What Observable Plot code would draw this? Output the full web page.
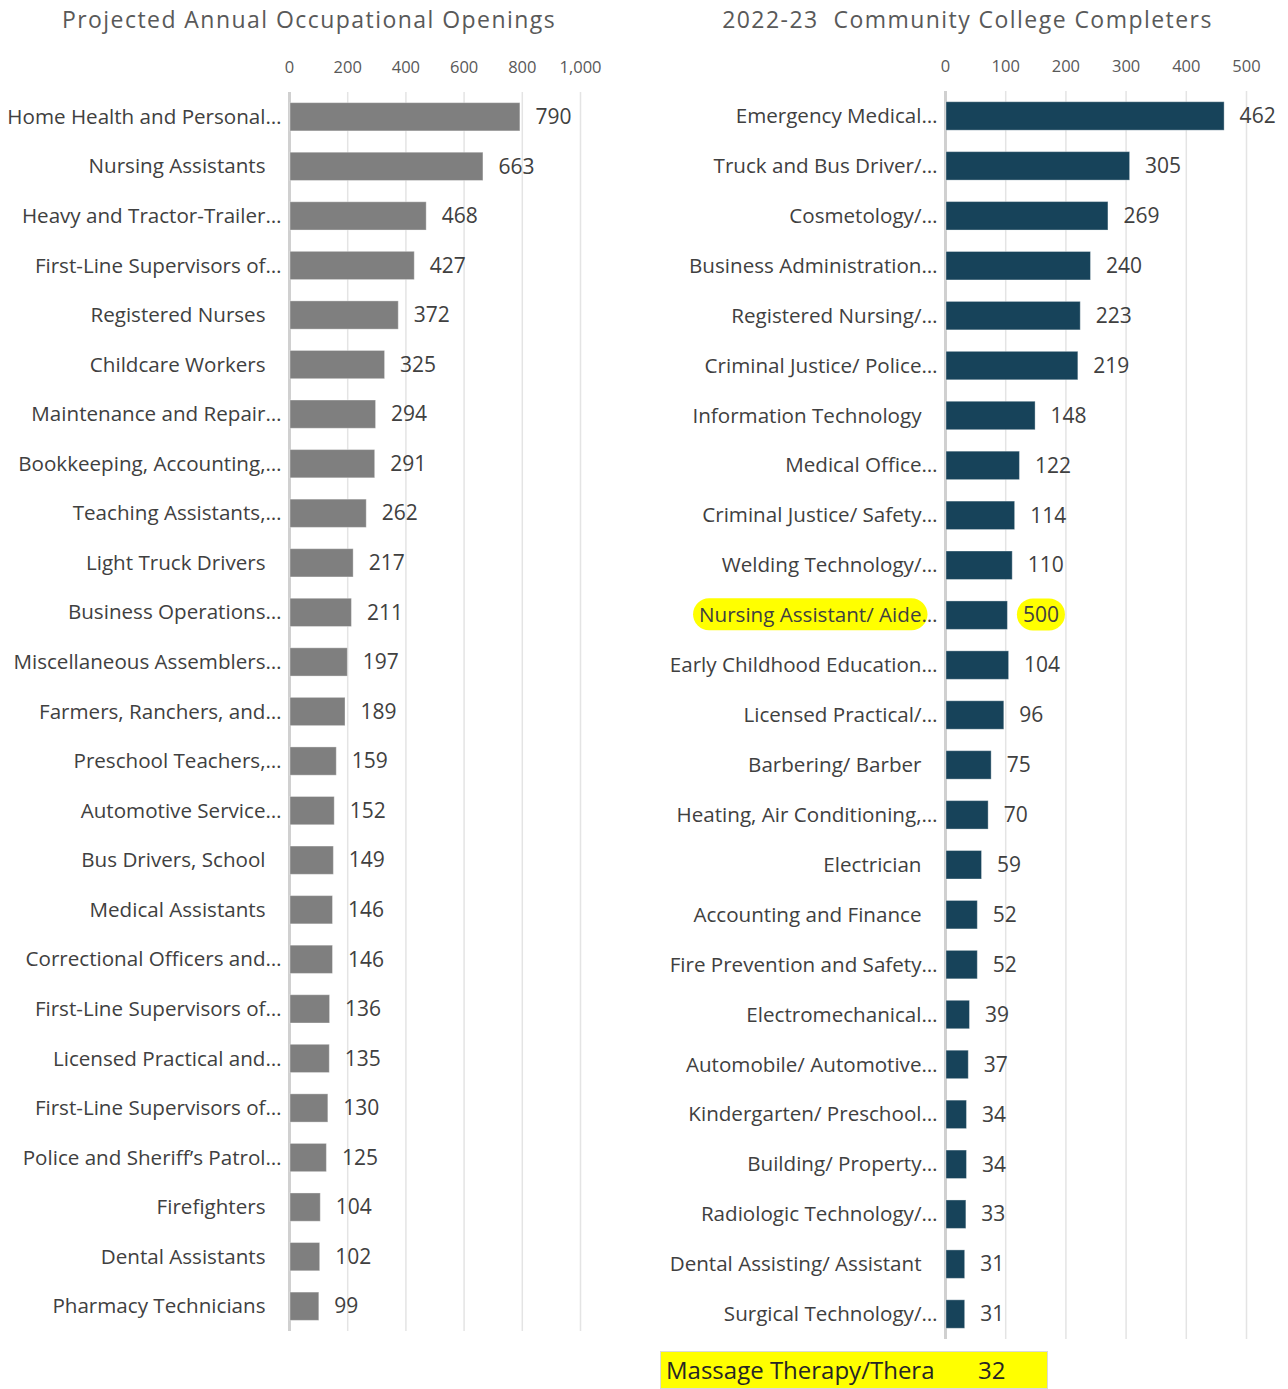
<!DOCTYPE html>
<html>
<head>
<meta charset="utf-8">
<script src="https://cdn.jsdelivr.net/npm/d3@7"></script>
<script src="https://cdn.jsdelivr.net/npm/@observablehq/plot@0.6"></script>
<style>
  html, body { margin: 0; padding: 0; background: #fff; }
  #wrap { position: relative; width: 1288px; height: 1389px; font-family: "Open Sans", sans-serif; color: #404040; overflow: hidden; }
  .title { position: absolute; top: 3px; font-size: 23px; letter-spacing: 1.45px; color: #595959; text-align: center; white-space: nowrap; }
  .panel { position: absolute; top: 40px; line-height: 0; }
  #note { position: absolute; left: 660px; top: 1351px; width: 386px; height: 36px; background: #ffff00; border: 1px solid #d9d9d9; font-size: 24px; color: #262626; }
  #note .name { position: absolute; left: 5px; top: 0; width: 268px; height: 36px; line-height: 36px; overflow: hidden; white-space: nowrap; }
  #note .val { position: absolute; left: 317px; top: 0; line-height: 36px; }
</style>
</head>
<body>
<div id="wrap">
  <div class="title" id="t1" style="left:0;width:618px;"></div>
  <div class="title" id="t2" style="left:640px;width:655px;"></div>
  <div class="panel" id="left" style="left:0;"></div>
  <div class="panel" id="right" style="left:640px;"></div>
  <div id="note"><span class="name"></span><span class="val"></span></div>
</div>
<script>
const leftTitle = "Projected Annual Occupational Openings";
const rightTitle = "2022-23\u00a0 Community College Completers";

const leftNames = [
  "Home Health and Personal…", "Nursing Assistants", "Heavy and Tractor-Trailer…",
  "First-Line Supervisors of…", "Registered Nurses", "Childcare Workers",
  "Maintenance and Repair…", "Bookkeeping, Accounting,…", "Teaching Assistants,…",
  "Light Truck Drivers", "Business Operations…", "Miscellaneous Assemblers…",
  "Farmers, Ranchers, and…", "Preschool Teachers,…", "Automotive Service…",
  "Bus Drivers, School", "Medical Assistants", "Correctional Officers and…",
  "First-Line Supervisors of…", "Licensed Practical and…", "First-Line Supervisors of…",
  "Police and Sheriff’s Patrol…", "Firefighters", "Dental Assistants", "Pharmacy Technicians"
];
const leftValues = [790, 663, 468, 427, 372, 325, 294, 291, 262, 217, 211, 197, 189, 159, 152, 149, 146, 146, 136, 135, 130, 125, 104, 102, 99];
const leftTicks = [0, 200, 400, 600, 800, 1000];

const rightNames = [
  "Emergency Medical…", "Truck and Bus Driver/…", "Cosmetology/…",
  "Business Administration…", "Registered Nursing/…", "Criminal Justice/ Police…",
  "Information Technology", "Medical Office…", "Criminal Justice/ Safety…",
  "Welding Technology/…", "Nursing Assistant/ Aide…", "Early Childhood Education…",
  "Licensed Practical/…", "Barbering/ Barber", "Heating, Air Conditioning,…",
  "Electrician", "Accounting and Finance", "Fire Prevention and Safety…",
  "Electromechanical…", "Automobile/ Automotive…", "Kindergarten/ Preschool…",
  "Building/ Property…", "Radiologic Technology/…", "Dental Assisting/ Assistant",
  "Surgical Technology/…"
];
const rightValues = [462, 305, 269, 240, 223, 219, 148, 122, 114, 110, 102, 104, 96, 75, 70, 59, 52, 52, 39, 37, 34, 34, 33, 31, 31];
const rightLabels = ["462", "305", "269", "240", "223", "219", "148", "122", "114", "110", "500", "104", "96", "75", "70", "59", "52", "52", "39", "37", "34", "34", "33", "31", "31"];
const rightHighlight = ["Nursing Assistant/ Aide…"];
const rightTicks = [0, 100, 200, 300, 400, 500];

const noteName = "Massage Therapy/Therapist";
const noteValue = 32;

document.getElementById("t1").textContent = leftTitle;
document.getElementById("t2").textContent = rightTitle;
document.querySelector("#note .name").textContent = noteName;
document.querySelector("#note .val").textContent = noteValue;

const FONT = "Open Sans, sans-serif";

function panel({names, values, labels, ticks, color, width, height, marginLeft, marginRight, marginTop}) {
  const data = names.map((name, i) => ({i, name, value: values[i], label: labels[i]}));
  const trunc = d => d.name.endsWith("…");
  return Plot.plot({
    width, height, marginLeft, marginRight, marginTop, marginBottom: 10,
    style: {fontFamily: FONT, background: "transparent", overflow: "visible"},
    x: {domain: [ticks[0], ticks[ticks.length - 1]], axis: null},
    y: {domain: d3.range(names.length), paddingInner: 0.43, paddingOuter: 0.215, round: false, axis: null},
    marks: [
      Plot.gridX(ticks, {stroke: "#e4e4e4", strokeOpacity: 1, strokeWidth: 1.5}),
      Plot.axisX(ticks, {anchor: "top", tickSize: 0, tickPadding: 20, fontSize: 16.5, fill: "#595959", tickFormat: d3.format(","), label: null}),
      Plot.ruleX([0], {stroke: "#d0d0d0", strokeWidth: 3}),
      Plot.barX(data, {x: "value", y: "i", fill: color, stroke: "#ffffff", strokeOpacity: 0.35, strokeWidth: 1, dx: 1}),
      Plot.text(data, {filter: trunc, x: 0, y: "i", text: "name", textAnchor: "end", dx: -8, fontSize: 20.6, fill: "#404040"}),
      Plot.text(data, {filter: d => !trunc(d), x: 0, y: "i", text: "name", textAnchor: "end", dx: -24, fontSize: 20.6, fill: "#404040"}),
      Plot.text(data, {x: "value", y: "i", text: "label", textAnchor: "start", dx: 16, fontSize: 21, fill: "#404040"})
    ]
  });
}

const leftPlot = panel({names: leftNames, values: leftValues, labels: leftValues.map(String), ticks: leftTicks,
  color: "#7f7f7f", width: 640, height: 1301, marginLeft: 289, marginRight: 60, marginTop: 52});
document.getElementById("left").appendChild(leftPlot);

const rightPlot = panel({names: rightNames, values: rightValues, labels: rightLabels, ticks: rightTicks,
  color: "#17435a", width: 648, height: 1309, marginLeft: 305, marginRight: 42, marginTop: 51});
document.getElementById("right").appendChild(rightPlot);

// yellow pill highlights behind the highlighted category label and its value label
function pill(textEl, trimEllipsis) {
  const bb = textEl.getBBox();
  const s = textEl.textContent;
  let w = bb.width;
  if (trimEllipsis && s.endsWith("…")) w = textEl.getSubStringLength(0, s.length - 1);
  const padX = 6, h = 32;
  const cy = bb.y + bb.height / 2;
  const r = document.createElementNS("http://www.w3.org/2000/svg", "rect");
  r.setAttribute("x", bb.x - padX);
  r.setAttribute("y", cy - h / 2);
  r.setAttribute("width", w + 2 * padX);
  r.setAttribute("height", h);
  r.setAttribute("rx", h / 2);
  r.setAttribute("fill", "#ffff00");
  const t = textEl.getAttribute("transform");
  if (t) r.setAttribute("transform", t);
  textEl.parentNode.insertBefore(r, textEl);
}
const isAxis = t => /axis|tick/i.test(t.parentNode.getAttribute("aria-label") || "");
const allTexts = [...rightPlot.querySelectorAll("text")].filter(t => !isAxis(t));
rightHighlight.forEach(name => {
  const idx = rightNames.indexOf(name);
  allTexts.filter(t => t.textContent === name).forEach(t => pill(t, true));
  allTexts.filter(t => t.textContent === rightLabels[idx]).forEach(t => pill(t, false));
});
</script>
</body>
</html>
